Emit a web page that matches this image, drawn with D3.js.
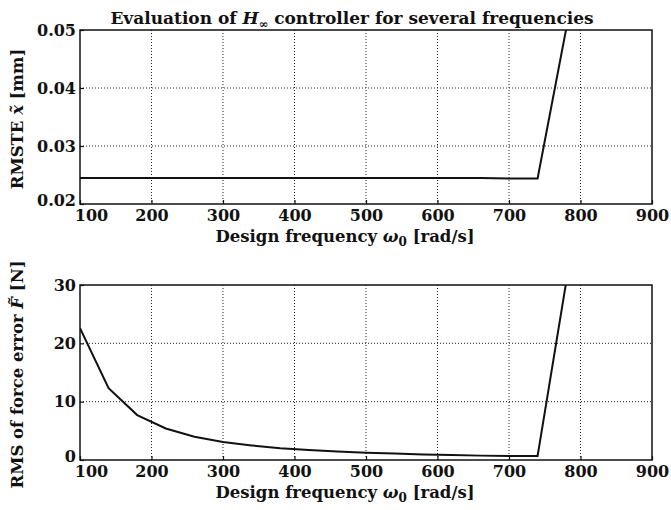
<!DOCTYPE html>
<html><head><meta charset="utf-8">
<script src="https://cdn.jsdelivr.net/npm/d3@7"></script>
<style>
body{margin:0;background:#fff;}
text{font-family:"DejaVu Serif","Liberation Serif",serif;font-weight:bold;fill:#111;}
</style></head>
<body><svg id="c" width="671" height="510"></svg>
<script>
const freqs = [100,140,180,220,260,300,340,380,420,460,500,540,580,620,660,700,740,780];
const rmste = [0.0245,0.0245,0.0245,0.0245,0.0245,0.0245,0.0245,0.0245,0.0245,0.0245,0.0245,0.0245,0.0245,0.0245,0.0245,0.0244,0.0244,0.0502];
const forceErr = [22.6,12.3,7.7,5.4,4.0,3.1,2.5,2.0,1.7,1.45,1.25,1.1,0.95,0.85,0.75,0.7,0.68,30.5];
const xTicks = [100,200,300,400,500,600,700,800,900];
const yTicksTop = [0.02,0.03,0.04,0.05];
const yTicksBot = [0,10,20,30];

const svg = d3.select("#c");
const left = 80, right = 652;
const x = d3.scaleLinear().domain([100,900]).range([left,right]);

function panel(top, bottom, yDomain, yTicks, fmt, data, ylabel, id){
  const y = d3.scaleLinear().domain(yDomain).range([bottom, top]);
  const g = svg.append("g");
  g.append("clipPath").attr("id", id).append("rect")
    .attr("x", left).attr("y", top).attr("width", right-left).attr("height", bottom-top);
  g.selectAll(".gx").data(xTicks.slice(1,-1)).join("line")
    .attr("x1", d=>x(d)).attr("x2", d=>x(d)).attr("y1", top).attr("y2", bottom)
    .attr("stroke","#222").attr("stroke-width",1).attr("stroke-dasharray","1,2");
  g.selectAll(".gy").data(yTicks.slice(1,-1)).join("line")
    .attr("y1", d=>y(d)).attr("y2", d=>y(d)).attr("x1", left).attr("x2", right)
    .attr("stroke","#222").attr("stroke-width",1).attr("stroke-dasharray","1,2");
  g.append("path").datum(freqs.map((f,i)=>[f,data[i]]))
    .attr("clip-path", `url(#${id})`)
    .attr("fill","none").attr("stroke","#111").attr("stroke-width",2)
    .attr("d", d3.line().x(d=>x(d[0])).y(d=>y(d[1])));
  g.append("rect").attr("x",left).attr("y",top).attr("width",right-left).attr("height",bottom-top)
    .attr("fill","none").attr("stroke","#111").attr("stroke-width",1.5);
  const ax = g.append("g").attr("transform",`translate(0,${bottom})`)
    .call(d3.axisBottom(x).tickValues(xTicks).tickSize(-4).tickPadding(5).tickFormat(d3.format("d")));
  ax.select(".domain").remove();
  ax.selectAll("text").attr("font-size",16).attr("dy","0.75em")
    .attr("dx", d => d===100 ? 11 : 0);
  const ay = g.append("g").attr("transform",`translate(${left},0)`)
    .call(d3.axisLeft(y).tickValues(yTicks).tickSize(-4).tickPadding(4).tickFormat(fmt));
  ay.select(".domain").remove();
  ay.selectAll("text").attr("font-size",16).attr("dy", (d,i)=> i===0 ? "0.1em" : "0.32em");
  g.selectAll(".tick line").attr("stroke","#111").attr("stroke-width",1.2);
  const xl = g.append("text").attr("x",345).attr("y",bottom+38)
    .attr("text-anchor","middle").attr("font-size",16.5);
  xl.append("tspan").text("Design frequency ");
  xl.append("tspan").attr("font-style","italic").text("ω");
  xl.append("tspan").attr("font-size",12).attr("dy",4).text("0");
  xl.append("tspan").attr("dy",-4).text(" [rad/s]");
  const yl = g.append("text").attr("transform",`translate(23,${(top+bottom)/2+2}) rotate(-90)`)
    .attr("text-anchor","middle").attr("font-size",16.5);
  ylabel(yl);
  return y;
}

panel(30, 204, [0.02,0.05], yTicksTop, d3.format(".2f"), rmste, t=>{
  t.append("tspan").text("RMSTE ");
  t.append("tspan").attr("font-style","italic").text("x\u0303");
  t.append("tspan").text(" [mm]");
}, "clipTop");

panel(285, 460, [0,30], yTicksBot, d3.format("d"), forceErr, t=>{
  t.append("tspan").text("RMS of force error ");
  t.append("tspan").attr("font-style","italic").text("F\u0303");
  t.append("tspan").text(" [N]");
}, "clipBot");

const title = svg.append("text").attr("x",352).attr("y",24).attr("text-anchor","middle").attr("font-size",17);
title.append("tspan").text("Evaluation of ");
title.append("tspan").attr("font-style","italic").text("H");
title.append("tspan").attr("font-size",11.5).attr("dy",4).text("∞");
title.append("tspan").attr("dy",-4).text(" controller for several frequencies");
</script></body></html>
